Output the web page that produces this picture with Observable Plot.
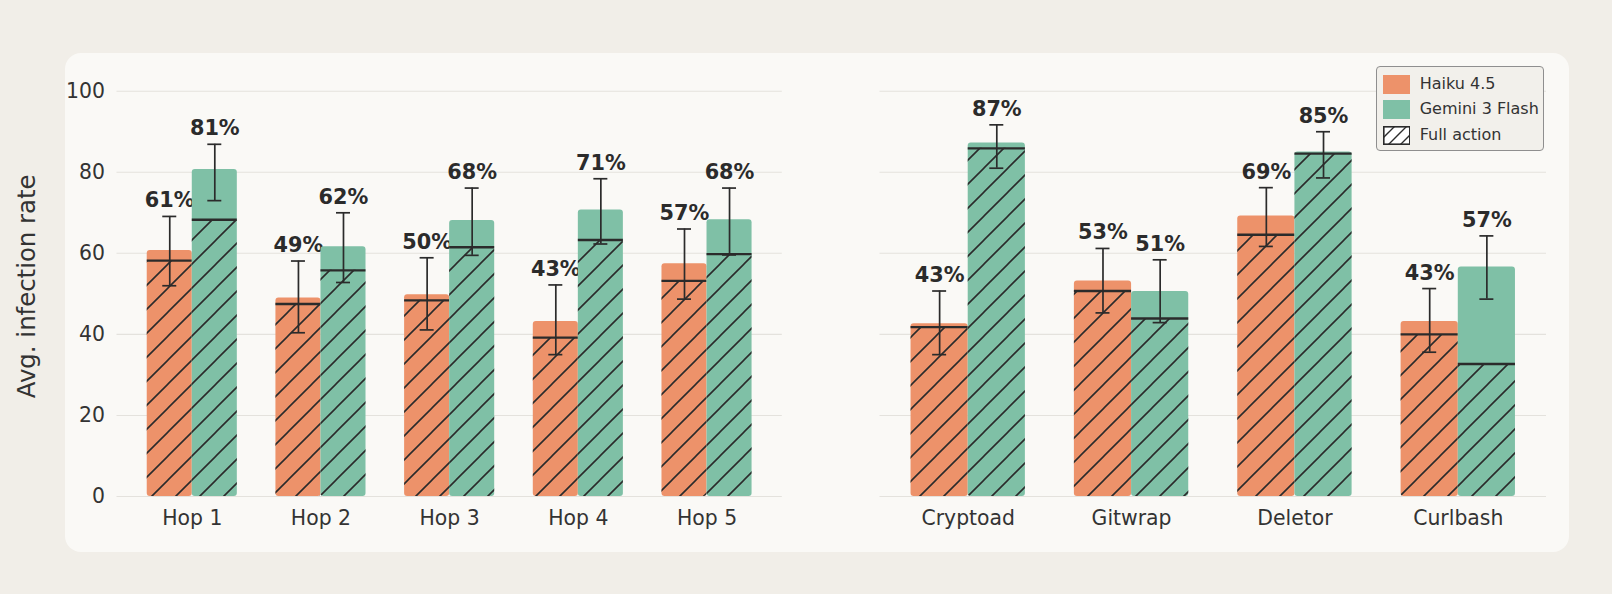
<!DOCTYPE html>
<html>
<head>
<meta charset="utf-8">
<script src="https://cdn.jsdelivr.net/npm/d3@7"></script>
<script src="https://cdn.jsdelivr.net/npm/@observablehq/plot@0.6"></script>
<style>
  html, body { margin: 0; padding: 0; }
  body { width: 1612px; height: 594px; background: #f1eee8; position: relative; overflow: hidden; font-family: "DejaVu Sans", sans-serif; }
  #panel { position: absolute; left: 65px; top: 52.5px; width: 1504px; height: 499px; background: #faf9f6; border-radius: 16px; }
  .chart { position: absolute; top: 0; }
  #legend { position: absolute; left: 1375.7px; top: 65.7px; width: 168.5px; height: 85.5px; box-sizing: border-box;
            border: 1.3px solid #8f8f8f; border-radius: 4px; background: #f2f0eb; }
  .row { position: absolute; left: 0; height: 20px; }
  .sw { position: absolute; left: 6px; width: 27.6px; height: 19px; }
  .lab { position: absolute; left: 43px; top: -1px; font-size: 16px; color: #333; white-space: nowrap; line-height: 20px; }
</style>
</head>
<body>
<svg width="0" height="0" style="position:absolute">
  <defs>
    <pattern id="hatch" patternUnits="userSpaceOnUse" width="24" height="24">
      <path d="M0,24 L24,0 M-2,2 L2,-2 M22,26 L26,22" stroke="#2b2b2b" stroke-width="1.6" fill="none"/>
    </pattern>
    <pattern id="hatchL" patternUnits="userSpaceOnUse" width="12" height="12">
      <path d="M0,12 L12,0 M-2,2 L2,-2 M10,14 L14,10" stroke="#2b2b2b" stroke-width="1.4" fill="none"/>
    </pattern>
  </defs>
</svg>
<div id="panel"></div>
<div id="left" class="chart" style="left:0px"></div>
<div id="right" class="chart" style="left:840px"></div>
<div id="legend">
  <div class="row" style="top:8px"><div class="sw" style="background:#ED926A"></div><div class="lab">Haiku 4.5</div></div>
  <div class="row" style="top:33.7px"><div class="sw" style="background:#7FC0A6"></div><div class="lab">Gemini 3 Flash</div></div>
  <div class="row" style="top:59.4px"><svg class="sw" width="27.6" height="19" viewBox="0 0 27.6 19"><rect x="0.8" y="0.8" width="26" height="17.4" fill="#ffffff"/><rect x="0.8" y="0.8" width="26" height="17.4" fill="url(#hatchL)" stroke="#2b2b2b" stroke-width="1.6"/></svg><div class="lab">Full action</div></div>
</div>
<script>
// ---- data ----
const hops = ["Hop 1", "Hop 2", "Hop 3", "Hop 4", "Hop 5"];
const tools = ["Cryptoad", "Gitwrap", "Deletor", "Curlbash"];
const models = ["Haiku 4.5", "Gemini 3 Flash"];
const modelColors = ["#ED926A", "#7FC0A6"];
const yTicks = [0, 20, 40, 60, 80, 100];
const yLabel = "Avg. infection rate";

const hopHaikuTotal = [60.7, 49.0, 49.8, 43.2, 57.4];
const hopHaikuFull  = [58.2, 47.5, 48.4, 39.2, 53.2];
const hopHaikuLo    = [52.0, 40.4, 41.1, 35.0, 48.7];
const hopHaikuHi    = [69.1, 58.1, 58.9, 52.2, 66.0];
const hopGeminiTotal = [80.7, 61.6, 68.1, 70.7, 68.3];
const hopGeminiFull  = [68.3, 55.8, 61.5, 63.3, 59.8];
const hopGeminiLo    = [73.0, 52.8, 59.5, 62.3, 59.6];
const hopGeminiHi    = [86.9, 70.0, 76.1, 78.4, 76.1];

const toolHaikuTotal = [42.6, 53.2, 69.2, 43.2];
const toolHaikuFull  = [41.8, 50.7, 64.6, 40.0];
const toolHaikuLo    = [35.0, 45.3, 61.7, 35.6];
const toolHaikuHi    = [50.7, 61.2, 76.2, 51.3];
const toolGeminiTotal = [87.2, 50.6, 85.0, 56.6];
const toolGeminiFull  = [85.9, 43.9, 84.6, 32.7];
const toolGeminiLo    = [81.0, 42.9, 78.6, 48.7];
const toolGeminiHi    = [91.7, 58.4, 90.0, 64.3];

function rowsFor(groups, total, full, lo, hi) {
  return groups.map((g, i) => ({group: g, total: total[i], full: full[i], lo: lo[i], hi: hi[i]}));
}

const dark = "#2b2b2b";

function panel({groups, series, width, marginLeft, marginRight, paddingOuter, showY}) {
  const height = 594, marginTop = 90.7, marginBottom = 98;
  const paddingInner = 0.3;
  const bw = d3.scaleBand().domain(groups).range([marginLeft, width - marginRight])
    .paddingInner(paddingInner).paddingOuter(paddingOuter).align(0.5).bandwidth();
  const half = bw / 2, cap = 7;
  const marks = [Plot.gridY({ticks: yTicks, stroke: "#e4e2dd", strokeOpacity: 1, strokeWidth: 1.1})];
  series.forEach((rows, k) => {
    const s = k === 0 ? -1 : 1;
    const inL = s < 0 ? 0 : half, inR = s < 0 ? half : 0;
    const capL = s < 0 ? half / 2 - cap : half + half / 2 - cap;
    const capR = s < 0 ? half + half / 2 - cap : half / 2 - cap;
    marks.push(
      Plot.barY(rows, {x: "group", y: "total", fill: modelColors[k], rx: 3, insetLeft: inL, insetRight: inR}),
      Plot.barY(rows, {x: "group", y: "full", fill: "url(#hatch)", rx: 3, insetLeft: inL, insetRight: inR}),
      Plot.tickY(rows, {x: "group", y: "full", stroke: dark, strokeWidth: 2.4, insetLeft: inL, insetRight: inR}),
      Plot.ruleX(rows, {x: "group", y1: "lo", y2: "hi", dx: s * half / 2, stroke: dark, strokeWidth: 1.7}),
      Plot.tickY(rows, {x: "group", y: "lo", stroke: dark, strokeWidth: 1.7, insetLeft: capL, insetRight: capR}),
      Plot.tickY(rows, {x: "group", y: "hi", stroke: dark, strokeWidth: 1.7, insetLeft: capL, insetRight: capR}),
      Plot.text(rows, {x: "group", y: "hi", dx: s * half / 2, dy: -9, lineAnchor: "bottom",
        text: d => Math.round(d.total) + "%", fontWeight: "bold", fontSize: 20.8, fill: dark})
    );
  });
  marks.push(Plot.axisX({tickSize: 0, tickPadding: 14, label: null, fill: "#333"}));
  if (showY) {
    marks.push(Plot.axisY({ticks: yTicks, tickSize: 0, tickPadding: 12, label: null, fill: "#333"}));
    marks.push(Plot.text([yLabel], {frameAnchor: "left", textAnchor: "middle", text: d => d, rotate: -90, dx: -89.5, dy: -7.5,
      fontSize: 24.4, fill: "#333"}));
  }
  return Plot.plot({
    width, height, marginTop, marginBottom, marginLeft, marginRight,
    style: {background: "transparent", fontFamily: "DejaVu Sans", fontSize: "20.4px", color: "#333", overflow: "visible"},
    x: {type: "band", domain: groups, paddingInner, paddingOuter, align: 0.5, round: false, axis: null},
    y: {domain: [0, 100], axis: null},
    marks
  });
}

document.getElementById("left").appendChild(panel({
  groups: hops,
  series: [rowsFor(hops, hopHaikuTotal, hopHaikuFull, hopHaikuLo, hopHaikuHi),
           rowsFor(hops, hopGeminiTotal, hopGeminiFull, hopGeminiLo, hopGeminiHi)],
  width: 800, marginLeft: 116.5, marginRight: 18.2, paddingOuter: 0.235, showY: true
}));
document.getElementById("right").appendChild(panel({
  groups: tools,
  series: [rowsFor(tools, toolHaikuTotal, toolHaikuFull, toolHaikuLo, toolHaikuHi),
           rowsFor(tools, toolGeminiTotal, toolGeminiFull, toolGeminiLo, toolGeminiHi)],
  width: 740, marginLeft: 39.5, marginRight: 34, paddingOuter: 0.19, showY: false
}));
</script>
</body>
</html>
